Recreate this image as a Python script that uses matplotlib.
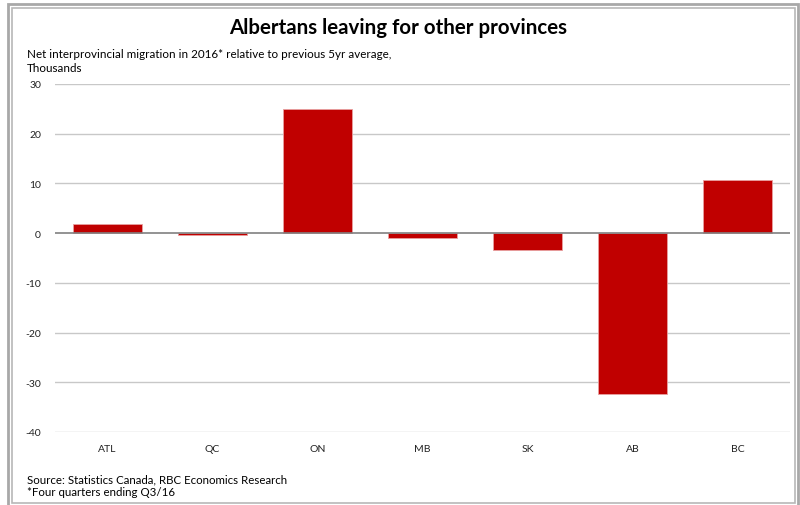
import matplotlib.pyplot as plt
from matplotlib.patches import Rectangle

provinces = ['ATL', 'QC', 'ON', 'MB', 'SK', 'AB', 'BC']
migration = [1.8, -0.3, 25.0, -1.0, -3.4, -32.4, 10.7]
yticks = [-40, -30, -20, -10, 0, 10, 20, 30]

plt.rcParams['font.family'] = ['Lato', 'DejaVu Sans']

fig = plt.figure(figsize=(8, 5.06), dpi=100)
ax = fig.add_axes([55 / 800, 1 - 433 / 506, 735 / 800, 348 / 506])

x = range(len(provinces))
ax.bar(x, migration, width=0.65, color='#c00000', edgecolor='#e8a0a0',
       linewidth=0.6, zorder=3)

ax.set_ylim(-40, 30)
ax.set_xlim(-0.5, len(provinces) - 0.5)
ax.set_yticks(yticks)
ax.set_yticklabels([str(t) for t in yticks], fontsize=7.5, color='#222222')
ax.set_xticks(list(x))
ax.set_xticklabels(provinces, fontsize=7.5, color='#222222')
ax.tick_params(axis='both', length=0)
ax.tick_params(axis='y', pad=10)
ax.tick_params(axis='x', pad=9)

for t in yticks:
    if t != 0:
        ax.axhline(t, color='#c8c8c8', linewidth=1.0, zorder=1)
ax.axhline(0, color='#808080', linewidth=1.2, zorder=4)

for s in ax.spines.values():
    s.set_visible(False)

fig.text(0.4975, 1 - 28 / 506, 'Albertans leaving for other provinces',
         ha='center', va='center', fontsize=14.8, fontweight='bold')
fig.text(27 / 800, 1 - 55 / 506,
         'Net interprovincial migration in 2016* relative to previous 5yr average,',
         ha='left', va='center', fontsize=8.4)
fig.text(27 / 800, 1 - 69 / 506, 'Thousands', ha='left', va='center', fontsize=8.4)
fig.text(27 / 800, 1 - 480 / 506, 'Source: Statistics Canada, RBC Economics Research',
         ha='left', va='center', fontsize=8.3)
fig.text(27 / 800, 1 - 493 / 506, '*Four quarters ending Q3/16',
         ha='left', va='center', fontsize=8.3)

# double frame round the whole figure
fig.patches.append(Rectangle((8 / 800, -0.01), 790 / 800, 1 - 5 / 506 + 0.01,
                             transform=fig.transFigure, fill=False,
                             edgecolor='#a8a8a8', linewidth=2))
fig.patches.append(Rectangle((12 / 800, 2 / 506), 783 / 800, 1 - 11 / 506,
                             transform=fig.transFigure, fill=False,
                             edgecolor='#b8b8b8', linewidth=1.2))

fig.savefig('out.png', dpi=100)
